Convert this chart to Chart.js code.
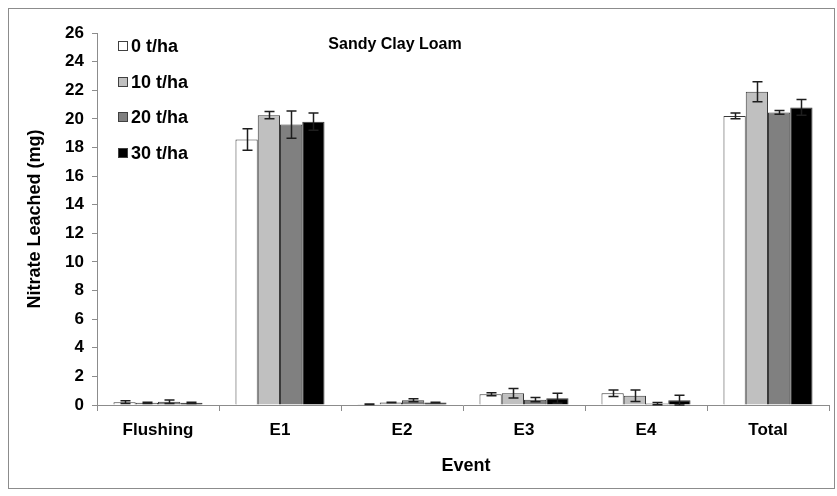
<!DOCTYPE html>
<html>
<head>
<meta charset="utf-8">
<script src="https://cdn.jsdelivr.net/npm/chart.js@4.4.1/dist/chart.umd.min.js"></script>
<style>
  html, body { margin: 0; padding: 0; background: #ffffff; }
  #wrap { width: 837px; height: 496px; }
</style>
</head>
<body>
<div id="wrap"><canvas id="chart" width="837" height="496"></canvas></div>
<script>
// Nitrate leached per event for four compost rates (mean ± error)
const categories = ['Flushing', 'E1', 'E2', 'E3', 'E4', 'Total'];
const seriesNames = ['0 t/ha', '10 t/ha', '20 t/ha', '30 t/ha'];

const rate0 = [0.20, 18.55, 0.05, 0.75, 0.82, 20.20];
const rate10 = [0.15, 20.26, 0.18, 0.82, 0.65, 21.90];
const rate20 = [0.23, 19.60, 0.33, 0.37, 0.10, 20.45];
const rate30 = [0.15, 19.80, 0.18, 0.47, 0.33, 20.80];

const err0 = [0.09, 0.75, 0.02, 0.10, 0.22, 0.20];
const err10 = [0.04, 0.25, 0.02, 0.33, 0.40, 0.70];
const err20 = [0.12, 0.95, 0.10, 0.15, 0.08, 0.13];
const err30 = [0.04, 0.60, 0.02, 0.35, 0.35, 0.55];

const yTicks = [0, 2, 4, 6, 8, 10, 12, 14, 16, 18, 20, 22, 24, 26];

const fills = ['#ffffff', '#c0c0c0', '#808080', '#000000'];
const values = [rate0, rate10, rate20, rate30];
const errors = [err0, err10, err20, err30];

const FONT = '"Liberation Sans", Arial, sans-serif';

// Whiskers, legend, titles and frame drawn on top of the bars
const decorations = {
  id: 'decorations',
  afterDatasetsDraw(chart) {
    const ctx = chart.ctx;
    const y = chart.scales.y;
    ctx.save();
    ctx.strokeStyle = '#1e1e1e';
    ctx.lineWidth = 1.5;
    chart.data.datasets.forEach((ds, i) => {
      const meta = chart.getDatasetMeta(i);
      meta.data.forEach((bar, j) => {
        const v = ds.data[j];
        const e = ds.errors[j];
        const top = y.getPixelForValue(v + e);
        const bot = y.getPixelForValue(Math.max(0, v - e));
        const x = Math.round(bar.x) + 0.5;
        ctx.beginPath();
        ctx.moveTo(x, top); ctx.lineTo(x, bot);
        ctx.moveTo(x - 5, top); ctx.lineTo(x + 5, top);
        ctx.moveTo(x - 5, bot); ctx.lineTo(x + 5, bot);
        ctx.stroke();
      });
    });
    ctx.restore();
  },
  afterDraw(chart) {
    const ctx = chart.ctx;
    const area = chart.chartArea;
    ctx.save();

    // frame around the whole figure
    ctx.strokeStyle = '#8c8c8c';
    ctx.lineWidth = 1;
    ctx.strokeRect(8.5, 8.5, 826, 480);

    // legend
    ctx.font = 'bold 18px ' + FONT;
    ctx.textBaseline = 'middle';
    ctx.textAlign = 'left';
    chart.data.datasets.forEach((ds, i) => {
      const cy = 46 + i * 35.7;
      ctx.fillStyle = ds.backgroundColor;
      ctx.fillRect(118, Math.round(cy - 5), 10, 10);
      ctx.strokeStyle = '#404040';
      ctx.strokeRect(118.5, Math.round(cy - 5) + 0.5, 9, 9);
      ctx.fillStyle = '#000000';
      ctx.fillText(ds.label, 131, cy + 1);
    });

    // chart title
    ctx.font = 'bold 16px ' + FONT;
    ctx.textAlign = 'center';
    ctx.fillText('Sandy Clay Loam', 395, 45);

    // axis titles
    ctx.font = 'bold 18px ' + FONT;
    ctx.fillText('Event', (area.left + area.right) / 2 + 3, 466);
    ctx.translate(35, (area.top + area.bottom) / 2);
    ctx.rotate(-Math.PI / 2);
    ctx.fillText('Nitrate Leached (mg)', 0, 0);
    ctx.restore();
  }
};

new Chart(document.getElementById('chart'), {
  type: 'bar',
  data: {
    labels: categories,
    datasets: seriesNames.map((name, i) => ({
      label: name,
      data: values[i],
      errors: errors[i],
      backgroundColor: fills[i],
      borderColor: '#3a3a3a',
      borderWidth: 1,
      categoryPercentage: 0.73,
      barPercentage: 1.0
    }))
  },
  options: {
    responsive: false,
    devicePixelRatio: 1,
    animation: false,
    layout: { padding: { left: 0, right: 8, top: 33, bottom: 0 } },
    plugins: {
      legend: { display: false },
      title: { display: false },
      tooltip: { enabled: false }
    },
    scales: {
      x: {
        afterFit(scale) { scale.height = 91; },
        grid: { drawOnChartArea: false, drawTicks: true, tickLength: 6, color: '#8c8c8c', offset: true },
        border: { color: '#8c8c8c', width: 1 },
        ticks: { color: '#000000', font: { family: FONT, size: 17, weight: 'bold' }, padding: 9 }
      },
      y: {
        min: 0,
        max: 26,
        afterFit(scale) { scale.width = 97; },
        afterBuildTicks(scale) { scale.ticks = yTicks.map(v => ({ value: v })); },
        grid: { drawOnChartArea: false, drawTicks: true, tickLength: 5, color: '#8c8c8c' },
        border: { color: '#8c8c8c', width: 1 },
        ticks: { color: '#000000', font: { family: FONT, size: 17, weight: 'bold' }, padding: 8 }
      }
    }
  },
  plugins: [decorations]
});
</script>
</body>
</html>
